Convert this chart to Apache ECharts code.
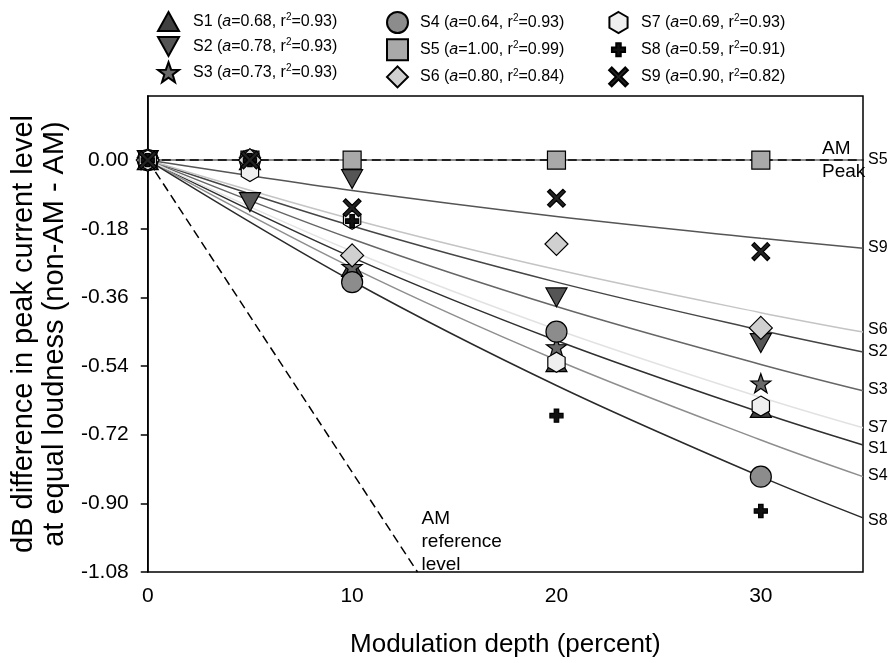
<!DOCTYPE html>
<html>
<head>
<meta charset="utf-8">
<script src="https://cdn.jsdelivr.net/npm/echarts@6/dist/echarts.min.js"></script>
<style>html,body{margin:0;padding:0;background:#fff;}#chart{width:894px;height:663px;}</style>
</head>
<body>
<div id="chart"></div>
<script>
// ---- data ----
const seriesNames = ['S1','S2','S3','S4','S5','S6','S7','S8','S9'];
const aValues = ['0.68','0.78','0.73','0.64','1.00','0.80','0.69','0.59','0.90'];
const r2Values = ['0.93','0.93','0.93','0.93','0.99','0.84','0.93','0.91','0.82'];
const depths = [0, 5, 10, 20, 30];
const S1 = [0, 0, -0.28, -0.53, -0.65];
const S2 = [0, -0.11, -0.05, -0.36, -0.48];
const S3 = [0, 0, -0.28, -0.49, -0.585];
const S4 = [0, 0, -0.32, -0.45, -0.83];
const S5 = [0, 0, 0, 0, 0];
const S6 = [0, 0, -0.25, -0.22, -0.44];
const S7 = [0, -0.03, -0.155, -0.53, -0.645];
const S8 = [0, 0, -0.16, -0.67, -0.92];
const S9 = [0, 0, -0.125, -0.10, -0.24];
const fitDepths = [0, 10, 20, 30, 35];
const fitS1 = [0, -0.255, -0.473, -0.662, -0.747];
const fitS2 = [0, -0.173, -0.320, -0.446, -0.503];
const fitS3 = [0, -0.207, -0.384, -0.536, -0.605];
const fitS4 = [0, -0.282, -0.524, -0.734, -0.830];
const fitS5 = [0, 0, 0, 0, 0];
const fitS6 = [0, -0.155, -0.287, -0.400, -0.451];
const fitS7 = [0, -0.239, -0.444, -0.622, -0.702];
const fitS8 = [0, -0.317, -0.591, -0.830, -0.938];
const fitS9 = [0, -0.080, -0.148, -0.205, -0.231];
const amPeakX = [0, 35];
const amPeakY = [0, 0];
const amRefX = [0, 13.2];
const amRefY = [0, -1.08];
const yTicks = [-1.08, -0.90, -0.72, -0.54, -0.36, -0.18, 0];
const xTicks = [0, 10, 20, 30];

// ---- styles ----
const FONT = '"Liberation Sans", Arial, sans-serif';
const pointsAll = [S1,S2,S3,S4,S5,S6,S7,S8,S9];
const fitsAll = [fitS1,fitS2,fitS3,fitS4,fitS5,fitS6,fitS7,fitS8,fitS9];
const markerStyle = [
  {symbol:'path://M0,-9 L10,9 L-10,9 Z', size:21, fill:'#404040'},
  {symbol:'path://M-10,-9 L10,-9 L0,9 Z', size:21, fill:'#555555'},
  {symbol:'path://M0,-10 L2.35,-3.24 L9.51,-3.09 L3.8,1.24 L5.88,8.09 L0,4 L-5.88,8.09 L-3.8,1.24 L-9.51,-3.09 L-2.35,-3.24 Z', size:20, fill:'#686868'},
  {symbol:'circle', size:21, fill:'#8c8c8c'},
  {symbol:'rect', size:18, fill:'#a9a9a9'},
  {symbol:'diamond', size:23, fill:'#d0d0d0'},
  {symbol:'path://M0,-10 L8.66,-5 L8.66,5 L0,10 L-8.66,5 L-8.66,-5 Z', size:20, fill:'#efefef'},
  {symbol:'path://M-8,-8 M8,8 M-1.7,-5 L1.7,-5 L1.7,-1.7 L5,-1.7 L5,1.7 L1.7,1.7 L1.7,5 L-1.7,5 L-1.7,1.7 L-5,1.7 L-5,-1.7 L-1.7,-1.7 Z', size:21, fill:'#111111'},
  {symbol:'path://M-5.6,-5.6 M5.6,5.6 M-5,-3.6 L-3.6,-5 L0,-1.4 L3.6,-5 L5,-3.6 L1.4,0 L5,3.6 L3.6,5 L0,1.4 L-3.6,5 L-5,3.6 L-1.4,0 Z', size:20, fill:'#222222'}
];
const lineColors = ['#303030','#454545','#666666','#8e8e8e','#a8a8a8','#c4c4c4','#e2e2e2','#2a2a2a','#555555'];
const labelDy = [4, 0, -1, -1, 0, -2, 0, 3, -1];

const series = [];
fitsAll.forEach((arr, i) => {
  series.push({
    name: seriesNames[i] + ' fit',
    type: 'line',
    data: fitDepths.map((x, j) => [x, arr[j]]),
    smooth: 0.35,
    showSymbol: false,
    symbol: 'none',
    silent: true,
    lineStyle: {color: lineColors[i], width: 1.5},
    z: 2,
    endLabel: {show: true, formatter: () => seriesNames[i], color: '#000', fontSize: 16, fontFamily: FONT, distance: 5, offset: [0, labelDy[i]]}
  });
});
series.push({
  name: 'AM Peak', type: 'line', data: amPeakX.map((x, j) => [x, amPeakY[j]]),
  showSymbol: false, symbol: 'none', silent: true, z: 3,
  lineStyle: {color: '#000', width: 1.5, type: [9, 5]},
  endLabel: {show: true, formatter: 'AM\nPeak', color: '#000', fontSize: 19, lineHeight: 23, fontFamily: FONT, distance: 5, offset: [-46, 0], align: 'left'}
});
series.push({
  name: 'AM reference', type: 'line', data: amRefX.map((x, j) => [x, amRefY[j]]),
  showSymbol: false, symbol: 'none', silent: true, z: 3,
  lineStyle: {color: '#000', width: 1.5, type: [9, 5]},
  endLabel: {show: true, formatter: 'AM\nreference\nlevel', color: '#000', fontSize: 19, lineHeight: 23, fontFamily: FONT, distance: 4, offset: [0, -30], align: 'left'}
});
pointsAll.forEach((arr, i) => {
  const m = markerStyle[i];
  series.push({
    name: seriesNames[i],
    type: 'scatter',
    data: depths.map((x, j) => [x, arr[j]]),
    symbol: m.symbol,
    symbolSize: m.size,
    symbolKeepAspect: true,
    itemStyle: {color: m.fill, borderColor: '#000', borderWidth: 1.2, opacity: 1},
    z: 10 + i
  });
});

function legendFmt(name) {
  const i = seriesNames.indexOf(name);
  return '{n|' + name + ' (}{i|a}{n|=' + aValues[i] + ', r}{s|2}{n|=' + r2Values[i] + ')}';
}
const richText = {
  n: {fontSize: 16, fontFamily: FONT, color: '#000', lineHeight: 18},
  i: {fontSize: 16, fontFamily: FONT, color: '#000', fontStyle: 'italic', lineHeight: 18},
  s: {fontSize: 10, fontFamily: FONT, color: '#000', verticalAlign: 'top', lineHeight: 12}
};
function makeLegend(names, left, pad) {
  return {
    data: names, orient: 'vertical', left: left, top: 6,
    itemWidth: 21, itemHeight: 21, itemGap: 4.2,
    selectedMode: false, symbolKeepAspect: true,
    formatter: legendFmt,
    textStyle: {rich: richText, padding: [0, 0, 0, pad]}
  };
}

const option = {
  animation: false,
  backgroundColor: '#fff',
  textStyle: {fontFamily: FONT},
  legend: [
    makeLegend(seriesNames.slice(0, 3), 152, 9),
    makeLegend(seriesNames.slice(3, 6), 381, 7),
    makeLegend(seriesNames.slice(6, 9), 602, 7)
  ],
  grid: {left: 147, right: 31, top: 96, bottom: 91, show: true, borderColor: '#000', borderWidth: 1.5, containLabel: false},
  xAxis: {
    type: 'value', min: 0, max: 35,
    name: 'Modulation depth (percent)', nameLocation: 'middle', nameGap: 60,
    nameTextStyle: {fontSize: 26, color: '#000', fontFamily: FONT},
    axisLine: {show: true, lineStyle: {color: '#000', width: 1.5}},
    axisTick: {show: true, customValues: xTicks, length: 7, lineStyle: {color: '#000', width: 1.5}},
    axisLabel: {customValues: xTicks, fontSize: 21, color: '#000', fontFamily: FONT, margin: 14},
    splitLine: {show: false}
  },
  yAxis: {
    type: 'value', min: -1.08, max: 0.168,
    name: 'dB difference in peak current level\nat equal loudness (non-AM - AM)',
    nameLocation: 'middle', nameGap: 76, nameRotate: 90,
    nameTextStyle: {fontSize: 29, lineHeight: 31, color: '#000', fontFamily: FONT},
    axisLine: {show: true, lineStyle: {color: '#000', width: 1.5}},
    axisTick: {show: true, customValues: yTicks, length: 7, lineStyle: {color: '#000', width: 1.5}},
    axisLabel: {customValues: yTicks, fontSize: 21, color: '#000', fontFamily: FONT, margin: 19,
      formatter: v => (Math.abs(v) < 1e-9 ? 0 : v).toFixed(2)},
    splitLine: {show: false}
  },
  series: series
};
const chart = echarts.init(document.getElementById('chart'), null, {renderer: 'canvas'});
chart.setOption(option);
</script>
</body>
</html>
